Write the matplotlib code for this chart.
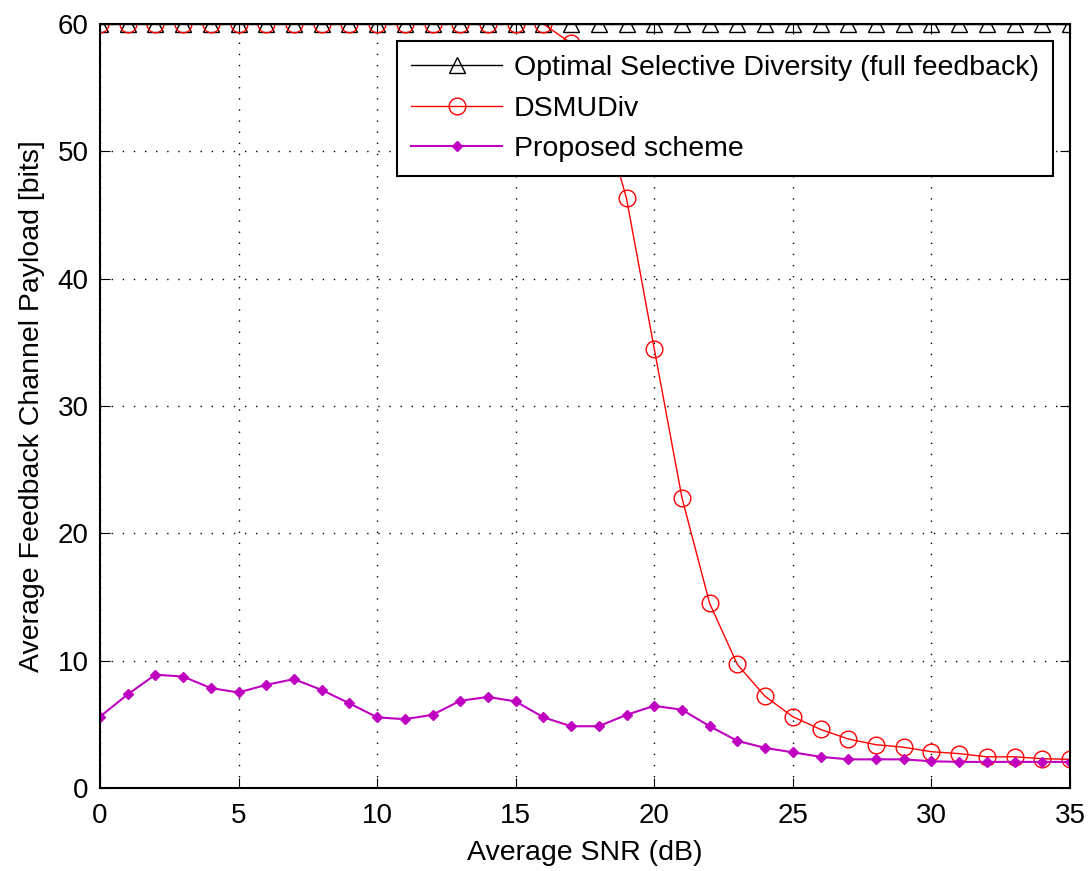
import numpy as np
import matplotlib
matplotlib.use("Agg")
import matplotlib.pyplot as plt

plt.rcParams['font.family'] = ['Liberation Sans', 'DejaVu Sans']

# Average SNR (dB)
snr = np.arange(0, 36)

# full feedback payload
optimal = [60] * 36

# DSMUDiv
dsmudiv = [60, 60, 60, 60, 60, 60, 60, 60, 60, 60, 60, 60, 60, 60, 60, 60, 60,
           58.5, 54.0, 46.3, 34.5, 22.8, 14.5, 9.7, 7.2, 5.6, 4.6, 3.85, 3.4,
           3.2, 2.85, 2.7, 2.45, 2.45, 2.3, 2.25]

# proposed scheme
proposed = [5.6, 7.35, 8.9, 8.75, 7.85, 7.5, 8.1, 8.55, 7.7, 6.65, 5.55, 5.4,
            5.75, 6.85, 7.15, 6.8, 5.55, 4.85, 4.85, 5.75, 6.45, 6.15, 4.85,
            3.7, 3.15, 2.8, 2.45, 2.25, 2.25, 2.25, 2.1, 2.05, 2.05, 2.05,
            2.05, 2.05]

fig = plt.figure(figsize=(10.9, 8.71), dpi=100)
ax = fig.add_axes([0.0917, 0.0953, 0.8899, 0.8771])

ax.plot(snr, optimal, color='black', linewidth=1, marker='^', markersize=11,
        markerfacecolor='none', markeredgecolor='black',
        label='Optimal Selective Diversity (full feedback)')
ax.plot(snr, dsmudiv, color='red', linewidth=1, marker='o', markersize=12,
        markerfacecolor='none', markeredgecolor='red', label='DSMUDiv')
ax.plot(snr, proposed, color='#c000c0', linewidth=1.5, marker='D', markersize=5,
        markerfacecolor='#c000c0', markeredgecolor='#c000c0',
        label='Proposed scheme')

ax.set_xlim(0, 35)
ax.set_ylim(0, 60)
ax.set_xticks(np.arange(0, 36, 5))
ax.set_yticks(np.arange(0, 61, 10))
ax.grid(True, color='black', linestyle=(0, (1, 7)), linewidth=1)
ax.tick_params(direction='in', top=True, right=True, length=7, labelsize=20)
ax.tick_params(axis='x', pad=11)
ax.tick_params(axis='y', pad=8)
for s in ax.spines.values():
    s.set_linewidth(1.5)

ax.set_xlabel('Average SNR (dB)', fontsize=20.5, labelpad=8)
ax.set_ylabel('Average Feedback Channel Payload [bits]', fontsize=20.5,
              labelpad=9)

leg = ax.legend(loc='upper right', prop={'size': 20.5}, fancybox=False,
                framealpha=1, edgecolor='black', borderaxespad=0.6,
                handlelength=3.2, borderpad=0.5, labelspacing=0.5,
                handletextpad=0.4)
leg.get_frame().set_linewidth(1.5)

fig.savefig('out.png', dpi=100)
